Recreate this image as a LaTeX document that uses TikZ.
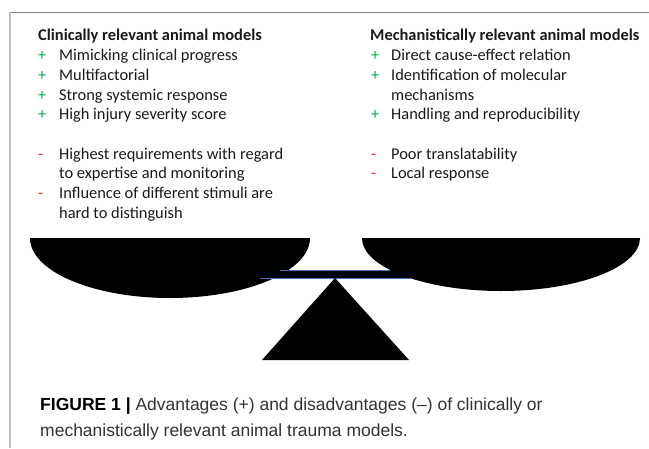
\documentclass[tikz,border=0pt]{standalone}
\usepackage{fontspec}
\setmainfont{Carlito}
\newfontfamily\capfont{Liberation Sans}
\definecolor{plusgreen}{RGB}{0,176,80}
\definecolor{minusred}{RGB}{235,40,40}
\definecolor{beamblue}{RGB}{68,114,196}
\definecolor{captext}{RGB}{50,50,50}
\begin{document}
\begin{tikzpicture}[x=1pt,y=1pt,
	txt/.style={anchor=base west,inner sep=0pt,text=black!90,
		font=\fontsize{16.4}{19.7}\selectfont},
	head/.style={txt,font=\fontsize{16.4}{19.7}\selectfont\bfseries},
	pro/.style={txt,text=plusgreen},
	con/.style={txt,text=minusred},
	captxt/.style={anchor=base west,inner sep=0pt,text=captext,
		font=\fontsize{17.5}{21}\selectfont\capfont}]

\useasboundingbox (0,0) rectangle (649,-448);

% frame
\draw[gray,line width=0.8pt] (10,-12) -- (649,-12);
\draw[black!25,line width=1.6pt] (10,-12) -- (10,-448);

% clinically relevant
\node[head] (clhead) at (38,-40) {Clinically relevant animal models};
\foreach \y in {60,80,100,119}
	\node[pro] (clp\y) at (38,-\y) {+};
\foreach \y in {159,198}
	\node[con] (clm\y) at (38,-\y) {-};
\foreach \y/\t in {60/Mimicking clinical progress, 80/Multifactorial,
		100/Strong systemic response, 119/High injury severity score,
		159/Highest requirements with regard, 178/to expertise and monitoring,
		198/Influence of different stimuli are, 218/hard to distinguish}
	\node[txt] (cl\y) at (59,-\y) {\t};

% mechanistically relevant
\node[head] (mehead) at (370,-40) {Mechanistically relevant animal models};
\foreach \y in {60,80,119}
	\node[pro] (mep\y) at (371,-\y) {+};
\foreach \y in {159,178}
	\node[con] (mem\y) at (371,-\y) {-};
\foreach \y/\t in {60/Direct cause-effect relation, 80/Identification of molecular,
		100/mechanisms, 119/Handling and reproducibility,
		159/Poor translatability, 178/Local response}
	\node[txt] (me\y) at (391,-\y) {\t};

% balance
\fill (30,-238) arc[start angle=180,end angle=360,x radius=140,y radius=60] -- cycle;
\fill (362,-238) arc[start angle=180,end angle=360,x radius=139,y radius=53] -- cycle;
\fill (280,-270) -- (390,-270) -- (412,-278) -- (260,-278) -- cycle;
\draw[beamblue,line width=0.6pt] (280,-270) -- (390,-270);
\draw[beamblue,line width=0.6pt] (260,-278) -- (412,-278);

\coordinate (pivot) at (335,-278);
\fill (pivot) -- (409,-360) -- (262,-360) -- cycle;

% caption
\node[captxt] (fig1) at (40,-410)
	{{\bfseries\color{black}FIGURE 1 |} Advantages (+) and disadvantages (–) of clinically or};
\node[captxt] (fig2) at (40,-436) {mechanistically relevant animal trauma models.};
\end{tikzpicture}
\end{document}
